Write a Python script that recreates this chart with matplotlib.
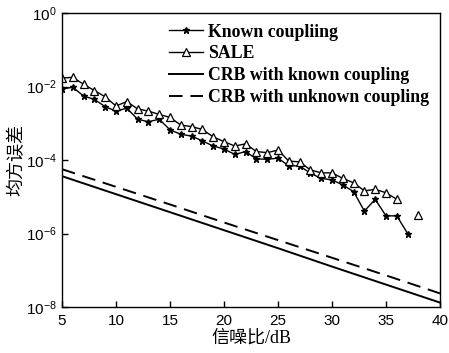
import numpy as np
import matplotlib
matplotlib.use("Agg")
import matplotlib.pyplot as plt
from matplotlib.ticker import FixedLocator, FuncFormatter

plt.rcParams['mathtext.fontset'] = 'custom'
plt.rcParams['mathtext.rm'] = 'Liberation Sans'
plt.rcParams['mathtext.it'] = 'Liberation Sans'
plt.rcParams['font.family'] = ['Liberation Sans', 'DejaVu Sans']

snr = list(range(5, 39))
# log10 of MSE values (None = missing)
known_log = [-2.07, -2.02, -2.26, -2.35, -2.55, -2.67, -2.59, -2.89, -2.96, -2.89,
             -3.18, -3.30, -3.35, -3.48, -3.62, -3.70, -3.85, -3.77, -3.97, -3.98,
             -3.95, -4.16, -4.16, -4.36, -4.50, -4.54, -4.68, -4.86, -5.39, -5.07,
             -5.52, -5.52, -6.00, None]
sale_log = [-1.77, -1.75, -1.94, -2.11, -2.28, -2.53, -2.41, -2.61, -2.67, -2.76,
            -2.84, -3.05, -3.09, -3.17, -3.37, -3.50, -3.62, -3.56, -3.77, -3.80,
            -3.73, -4.03, -4.05, -4.27, -4.35, -4.35, -4.50, -4.62, -4.84, -4.80,
            -4.89, -5.07, None, -5.50]

crb_snr = [5, 10, 15, 20, 25, 30, 35, 40]
crb_known_log = [-4.44, -4.93, -5.42, -5.91, -6.40, -6.90, -7.39, -7.88]
crb_unknown_log = [-4.25, -4.73, -5.21, -5.70, -6.18, -6.66, -7.14, -7.63]

def to_mse(vals):
    return np.array([np.nan if v is None else 10.0 ** v for v in vals])

fig = plt.figure(figsize=(4.49, 3.53), dpi=100)
ax = fig.add_axes([62/449, 1 - 307/353, (440 - 62)/449, (307 - 13)/353])

ax.semilogy(snr, to_mse(known_log), color='black', lw=1.0, marker='*', ms=5,
            mfc='black', mec='black', label='Known coupliing')
ax.semilogy(snr, to_mse(sale_log), color='black', lw=1.0, marker='^', ms=6,
            mfc='white', mec='black', mew=0.9, label='SALE')
ax.semilogy(crb_snr, to_mse(crb_known_log), color='black', lw=1.4, ls='-',
            label='CRB with known coupling')
ax.semilogy(crb_snr, to_mse(crb_unknown_log), color='black', lw=1.4, ls=(0, (7, 4)),
            label='CRB with unknown coupling')

ax.set_xlim(5, 40)
ax.set_ylim(1e-8, 1e0)
ax.set_xticks([5, 10, 15, 20, 25, 30, 35, 40])
ax.yaxis.set_major_locator(FixedLocator([1e-8, 1e-6, 1e-4, 1e-2, 1e0]))
ax.yaxis.set_minor_locator(FixedLocator([]))
ax.yaxis.set_major_formatter(FuncFormatter(lambda v, p: r'$10^{%d}$' % round(np.log10(v))))
ax.tick_params(direction='in', length=4, width=1, labelsize=11, pad=4)
ax.tick_params(axis='x', pad=5)
for s in ax.spines.values():
    s.set_linewidth(1.0)

ax.set_xlabel('信噪比/dB', fontsize=13, family=['Liberation Serif', 'Noto Sans CJK SC'], labelpad=1)
ax.set_ylabel('均方误差', fontsize=13, family=['Noto Sans CJK SC'])
ax.yaxis.set_label_coords(-0.097, 0.5)

leg = ax.legend(loc='upper right', frameon=False,
                prop={'family': 'Liberation Serif', 'size': 12.8, 'weight': 'bold'},
                handlelength=1.9, handletextpad=0.3, labelspacing=0.27,
                borderaxespad=0.4, borderpad=0.2)

fig.savefig('out.png', dpi=100)
